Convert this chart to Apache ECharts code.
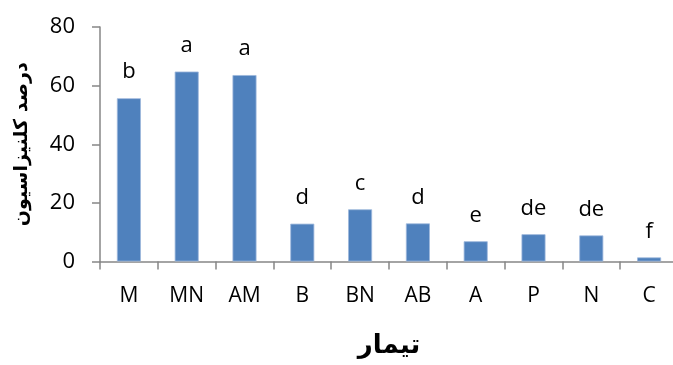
<!DOCTYPE html>
<html>
<head>
<meta charset="utf-8">
<script src="https://cdn.jsdelivr.net/npm/echarts@6/dist/echarts.min.js"></script>
<style>
  html, body { margin: 0; padding: 0; background: #fff; }
  #chart { width: 673px; height: 365px; }
</style>
</head>
<body>
<div id="chart"></div>
<script>
// Colonization percentage per treatment, with significance letters
const treatments = ['M', 'MN', 'AM', 'B', 'BN', 'AB', 'A', 'P', 'N', 'C'];
const colonization = [55.7, 64.8, 63.6, 12.9, 17.8, 13.0, 6.9, 9.3, 8.9, 1.4];
const groups = ['b', 'a', 'a', 'd', 'c', 'd', 'e', 'de', 'de', 'f'];
const yTicks = [0, 20, 40, 60, 80];

const axisGray = '#868686';
const latin = 'Open Sans';
const persian = 'DejaVu Sans';

const chart = echarts.init(document.getElementById('chart'));
chart.setOption({
  animation: false,
  grid: { left: 100, top: 27, width: 578, height: 234.5, containLabel: false, outerBoundsMode: 'none' },
  xAxis: {
    type: 'category',
    data: treatments,
    name: 'تیمار',
    nameLocation: 'middle',
    nameGap: 72,
    nameTextStyle: { fontFamily: persian, fontWeight: 'bold', fontSize: 26, color: '#000' },
    axisLine: { lineStyle: { color: axisGray, width: 1.5 } },
    axisTick: { show: true, length: 8, lineStyle: { color: axisGray, width: 1.5 } },
    axisLabel: { color: '#000', fontFamily: latin, fontSize: 21, margin: 24 }
  },
  yAxis: {
    type: 'value',
    min: yTicks[0],
    max: yTicks[yTicks.length - 1],
    interval: 20,
    name: 'درصد کلنیزاسیون',
    nameLocation: 'middle',
    nameGap: 68,
    nameRotate: 90,
    nameTextStyle: { fontFamily: persian, fontWeight: 'bold', fontSize: 19, color: '#000' },
    axisLine: { show: true, lineStyle: { color: axisGray, width: 1.5 } },
    axisTick: { show: true, length: 8, lineStyle: { color: axisGray, width: 1.5 } },
    splitLine: { show: false },
    axisLabel: { color: '#000', fontFamily: latin, fontSize: 22, margin: 25 }
  },
  series: [{
    type: 'bar',
    data: colonization,
    barWidth: 24,
    itemStyle: { color: '#4F81BD', borderColor: '#9DB8DC', borderWidth: 0.8 },
    label: {
      show: true,
      position: 'top',
      distance: 15,
      color: '#000',
      fontFamily: latin,
      fontSize: 22,
      formatter: p => groups[p.dataIndex]
    }
  }]
});
</script>
</body>
</html>
